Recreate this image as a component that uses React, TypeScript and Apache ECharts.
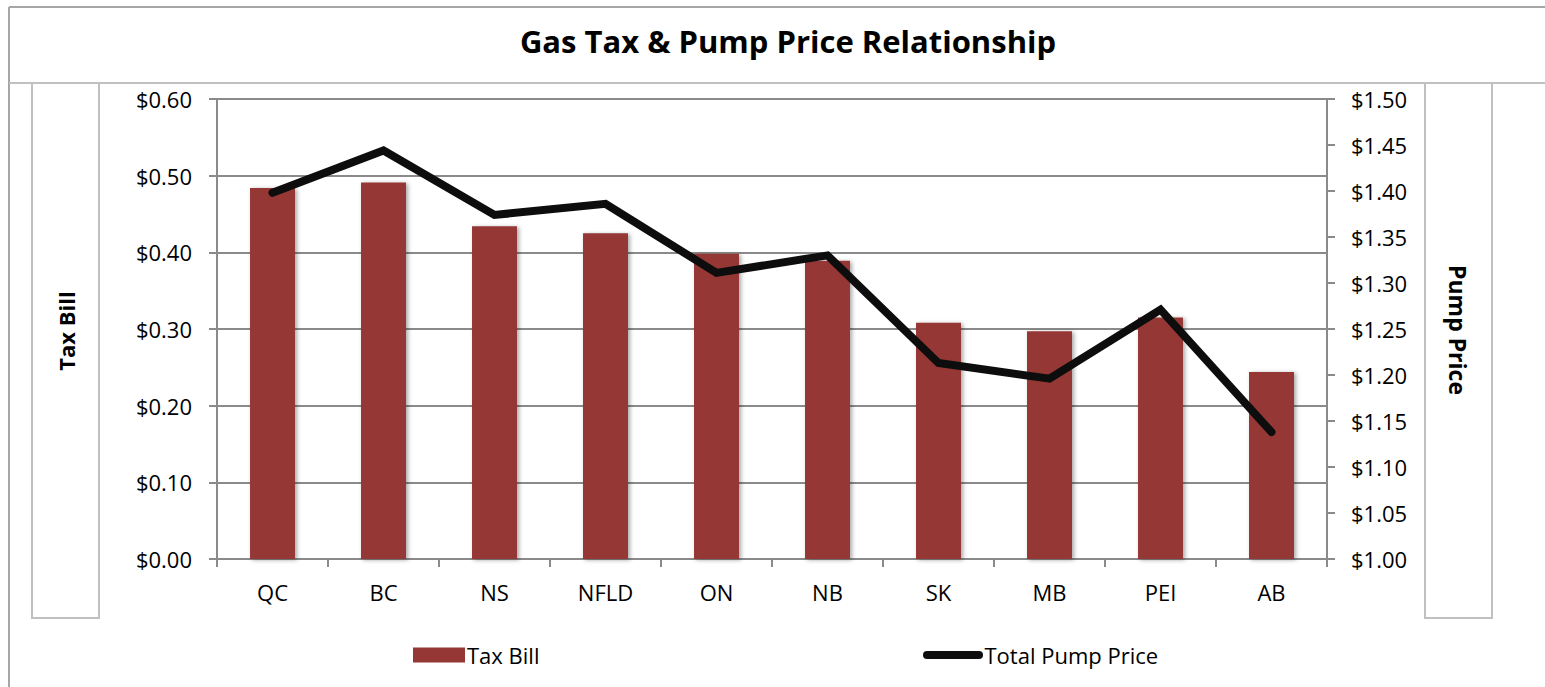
import React, { useEffect, useRef } from "react";
import * as echarts from "echarts";

const categories = ["QC", "BC", "NS", "NFLD", "ON", "NB", "SK", "MB", "PEI", "AB"];
const taxBill = [0.484, 0.491, 0.434, 0.425, 0.398, 0.389, 0.308, 0.297, 0.315, 0.244];
const pumpPrice = [1.398, 1.444, 1.374, 1.386, 1.311, 1.330, 1.213, 1.196, 1.271, 1.138];
const titleText = "Gas Tax & Pump Price Relationship";
const leftAxisTitle = "Tax Bill";
const rightAxisTitle = "Pump Price";

const FONT = "'Open Sans', sans-serif";

export default function App() {
  const ref = useRef<HTMLDivElement>(null);
  useEffect(() => {
    if (!ref.current) return;
    const chart = echarts.init(ref.current, undefined, { renderer: "svg" });
    const boxStroke = "#c0c0c0";
    chart.setOption({
      animation: false,
      textStyle: { fontFamily: FONT },
      grid: { left: 217, right: 218, top: 99, bottom: 128, containLabel: false },
      title: {
        text: titleText,
        left: 783,
        top: 20,
        textAlign: "center",
        textStyle: { fontFamily: FONT, fontSize: 31, fontWeight: "bold", color: "#000" },
      },
      legend: [
        {
          data: [{ name: "Tax Bill", icon: "rect" }],
          left: 408,
          top: 639,
          itemWidth: 52,
          itemHeight: 15,
          itemGap: 0,
          textStyle: { fontFamily: FONT, fontSize: 22, color: "#000", padding: [0, 0, 0, -3] },
        },
        {
          data: [
            {
              name: "Total Pump Price",
              icon: "path://M4,0 L56,0 A4,4 0 0 1 56,8 L4,8 A4,4 0 0 1 4,0 Z",
            },
          ],
          left: 918,
          top: 639,
          itemWidth: 61,
          itemHeight: 8,
          textStyle: { fontFamily: FONT, fontSize: 22, color: "#000", padding: [0, 0, 0, -4] },
        },
      ],
      xAxis: {
        type: "category",
        data: categories,
        axisLine: { lineStyle: { color: "#8a8a8a", width: 2 } },
        axisTick: { show: true, length: 8, lineStyle: { color: "#8a8a8a", width: 2 } },
        axisLabel: { fontFamily: FONT, fontSize: 22, color: "#000", margin: 22 },
      },
      yAxis: [
        {
          type: "value",
          min: 0,
          max: 0.6,
          interval: 0.1,
          axisLine: { show: true, lineStyle: { color: "#8a8a8a", width: 2 } },
          axisTick: { show: true, length: 8, lineStyle: { color: "#8a8a8a", width: 2 } },
          splitLine: { show: true, lineStyle: { color: "#8a8a8a", width: 2 } },
          axisLabel: {
            fontFamily: FONT,
            fontSize: 22,
            color: "#000",
            margin: 25,
            formatter: (v: number) => "$" + v.toFixed(2),
          },
        },
        {
          type: "value",
          min: 1,
          max: 1.5,
          interval: 0.05,
          position: "right",
          axisLine: { show: true, lineStyle: { color: "#8a8a8a", width: 2 } },
          axisTick: { show: true, length: 8, lineStyle: { color: "#8a8a8a", width: 2 } },
          splitLine: { show: false },
          axisLabel: {
            fontFamily: FONT,
            fontSize: 22,
            color: "#000",
            margin: 24,
            formatter: (v: number) => "$" + v.toFixed(2),
          },
        },
      ],
      series: [
        {
          name: "Tax Bill",
          type: "bar",
          data: taxBill,
          yAxisIndex: 0,
          barWidth: "40.5%",
          itemStyle: {
            color: "#953735",
            shadowColor: "rgba(0,0,0,0.35)",
            shadowBlur: 4,
            shadowOffsetX: 2,
            shadowOffsetY: 1,
          },
        },
        {
          name: "Total Pump Price",
          type: "line",
          data: pumpPrice,
          yAxisIndex: 1,
          showSymbol: false,
          symbol: "none",
          lineStyle: { color: "#0d0d0d", width: 8, cap: "round", join: "miter" },
          itemStyle: { color: "#0d0d0d" },
        },
      ],
      graphic: [
        { type: "line", shape: { x1: 9, y1: 7, x2: 1545, y2: 7 }, style: { stroke: "#a6a6a6", lineWidth: 2 }, silent: true },
        { type: "line", shape: { x1: 9, y1: 7, x2: 9, y2: 687 }, style: { stroke: "#a6a6a6", lineWidth: 2 }, silent: true },
        { type: "line", shape: { x1: 9, y1: 83, x2: 1545, y2: 83 }, style: { stroke: boxStroke, lineWidth: 2 }, silent: true },
        { type: "rect", shape: { x: 32, y: 83, width: 67, height: 535 }, style: { fill: "none", stroke: boxStroke, lineWidth: 2 }, silent: true },
        { type: "rect", shape: { x: 1425, y: 83, width: 67, height: 535 }, style: { fill: "none", stroke: boxStroke, lineWidth: 2 }, silent: true },
        {
          type: "text",
          x: 66,
          y: 331,
          rotation: Math.PI / 2,
          style: {
            text: leftAxisTitle,
            font: "bold 22px 'Open Sans', sans-serif",
            fill: "#000",
            align: "center",
            verticalAlign: "middle",
          },
          silent: true,
        },
        {
          type: "text",
          x: 1458,
          y: 330,
          rotation: -Math.PI / 2,
          style: {
            text: rightAxisTitle,
            font: "bold 23px 'Open Sans', sans-serif",
            fill: "#000",
            align: "center",
            verticalAlign: "middle",
          },
          silent: true,
        },
      ],
    });
    return () => chart.dispose();
  }, []);
  return (
    <div
      ref={ref}
      style={{ position: "absolute", left: 0, top: 0, width: 1545, height: 687, background: "#fff" }}
    />
  );
}
